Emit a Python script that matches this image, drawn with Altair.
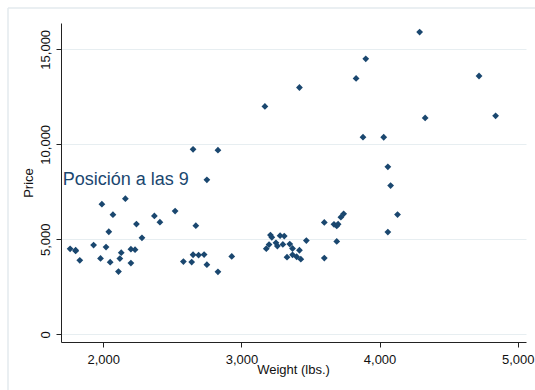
import altair as alt
import pandas as pd

# 1978 automobile data: curb weight (lbs.) and price (US$)
weight = [2930, 3350, 2640, 3250, 4080, 3670, 2230, 3280, 3880, 3400,
          4330, 3900, 4290, 2110, 3690, 3180, 3220, 2750, 3430, 2120,
          3600, 3600, 3740, 1800, 2650, 4840, 4720, 3830, 2580, 4060,
          3720, 3370, 4130, 2830, 4060, 3310, 3300, 3690, 3370, 2730,
          4030, 3260, 1800, 2200, 2520, 3330, 3700, 3470, 3210, 3200,
          3420, 2690, 2830, 2070, 2650, 2370, 2020, 2280, 2750, 2130,
          2240, 1760, 1980, 3420, 1830, 2050, 2410, 2200, 2670, 2160,
          2040, 1930, 1990, 3170]
price = [4099, 4749, 3799, 4816, 7827, 5788, 4453, 5189, 10372, 4082,
         11385, 14500, 15906, 3299, 5705, 4504, 5104, 3667, 3955, 3984,
         4010, 5886, 6342, 4389, 4187, 11497, 13594, 13466, 3829, 5379,
         6165, 4516, 6303, 3291, 8814, 5172, 4733, 4890, 4181, 4195,
         10371, 4647, 4425, 4482, 6486, 4060, 5798, 4934, 5222, 4723,
         4424, 4172, 9690, 6295, 9735, 6229, 4589, 5079, 8129, 4296,
         5799, 4499, 3995, 12990, 3895, 3798, 5899, 3748, 5719, 7140,
         5397, 4697, 6850, 11995]

x_ticks = [2000, 3000, 4000, 5000]
y_ticks = [0, 5000, 10000, 15000]

note_text = ["Posición a las 9"]
note_weight = [1706]
note_price = [8100]

FONT = "Liberation Sans"
NAVY = "#1a476f"

cars = pd.DataFrame({"weight": weight, "price": price})
note = pd.DataFrame({"t": note_text, "weight": note_weight, "price": note_price})

x_scale = alt.Scale(domain=[1694, 5060], nice=False, zero=False)
y_scale = alt.Scale(domain=[-405, 16384], nice=False, zero=False)

points = alt.Chart(cars).mark_point(
    shape="diamond", filled=True, size=46, color=NAVY, opacity=1, clip=False
).encode(
    x=alt.X("weight:Q", scale=x_scale, title="Weight (lbs.)",
            axis=alt.Axis(values=x_ticks, format=",d", grid=False,
                          domainColor="#222222", tickColor="#222222",
                          tickSize=5, labelPadding=6, labelFontSize=13,
                          labelColor="#111111", labelFont=FONT,
                          titleFont=FONT, titleFontSize=13, titleFontWeight="normal",
                          titleColor="#111111", titlePadding=-3, titleX=232,
                          labelFlush=False)),
    y=alt.Y("price:Q", scale=y_scale, title="Price",
            axis=alt.Axis(values=y_ticks, format=",d", grid=True,
                          gridColor="#e7eef1", gridWidth=1,
                          domainColor="#222222", tickColor="#222222",
                          tickSize=5, labelAngle=-90, labelAlign="center",
                          labelBaseline="bottom", labelPadding=4,
                          labelFontSize=13, labelColor="#111111", labelFont=FONT,
                          titleFont=FONT, titleFontSize=13, titleFontWeight="normal",
                          titleColor="#111111", titlePadding=4)),
)

label = alt.Chart(note).mark_text(
    align="left", baseline="middle", font=FONT, fontSize=18, color=NAVY
).encode(
    x=alt.X("weight:Q", scale=x_scale),
    y=alt.Y("price:Q", scale=y_scale),
    text="t:N",
)

# light outer frame around the graph region
frame_top = alt.Chart(note).mark_rule(color="#e3eaee", strokeWidth=1.5).encode(
    x=alt.value(-53), x2=alt.value(520), y=alt.value(-15)
)
frame_left = alt.Chart(note).mark_rule(color="#e3eaee", strokeWidth=1.5).encode(
    x=alt.value(-53), y=alt.value(-15), y2=alt.value(400)
)

chart = alt.layer(frame_top, frame_left, points, label).properties(
    width=465, height=319,
    autosize=alt.AutoSizeParams(type="none"),
    padding={"left": 61, "top": 23, "right": 9, "bottom": 48},
    background="white",
).configure_view(stroke=None)

chart.save("out.html", embed_options={"renderer": "svg", "actions": False})
